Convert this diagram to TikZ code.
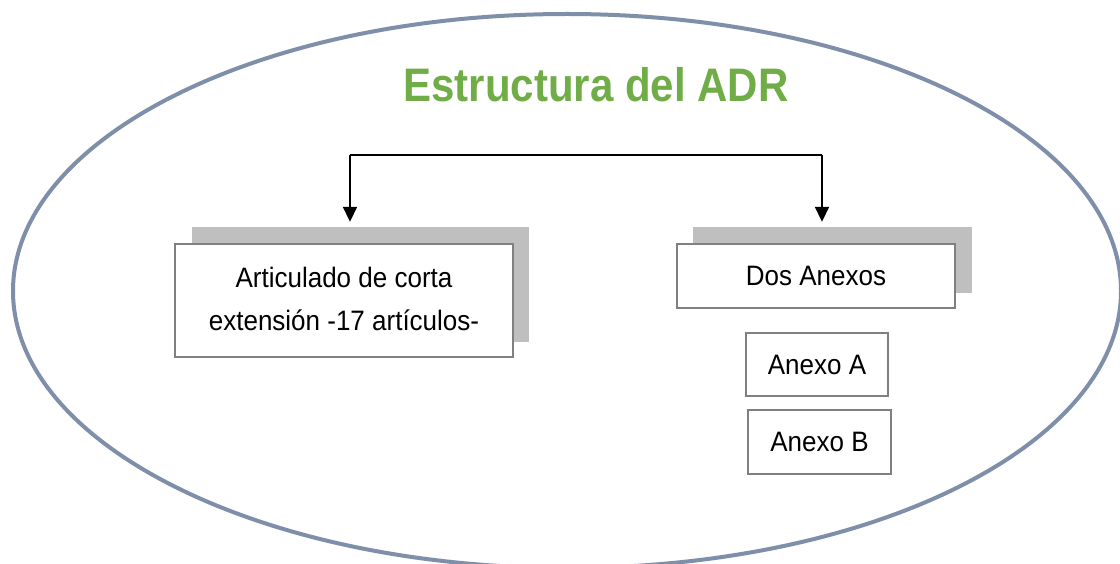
\documentclass[tikz,border=0pt]{standalone}
\usepackage{fontspec}
\setmainfont{Liberation Sans}
\usetikzlibrary{arrows.meta}
\definecolor{ringblue}{RGB}{127,143,169}
\definecolor{titlegreen}{RGB}{112,173,71}
\definecolor{shadowgray}{RGB}{191,191,191}
\definecolor{boxgray}{RGB}{128,128,128}
\newcommand{\vstretch}[1]{\scalebox{1}[1.08]{#1}}
\begin{document}
\begin{tikzpicture}[x=1pt,y=-1pt,
  shadowbox/.style={fill=shadowgray, draw=none, inner sep=0pt},
  mainbox/.style={fill=white, draw=boxgray, line width=1.8pt, inner sep=0pt,
                  font=\fontsize{26}{40}\selectfont},
  link/.style={line width=1.8pt, -{Triangle[length=15pt,width=14pt]}, shorten >=5pt},
  bar/.style={line width=1.8pt}]
\useasboundingbox (0,0) rectangle (1120,564);
\fill[white] (0,0) rectangle (1120,564);
\draw[ringblue, line width=4pt] (567,291) ellipse [x radius=554, y radius=277];

\node[font=\fontsize{42}{50}\selectfont\bfseries, text=titlegreen] (title) at (596,85)
  {\scalebox{1}[1.12]{Estructura del ADR}};

% shadows
\node[shadowbox, minimum width=337pt, minimum height=115pt] (artshadow) at (360.5,284.5) {};
\node[shadowbox, minimum width=279pt, minimum height=66pt] (dosshadow) at (832.5,260) {};

% main boxes
\node[mainbox, minimum width=338pt, minimum height=113pt] (art) at (344,300.5)
  {\raisebox{2pt}{\vstretch{\begin{tabular}{@{}c@{}}Articulado de corta\\ extensión -17 artículos-\end{tabular}}}};
\node[mainbox, minimum width=278pt, minimum height=64pt] (dos) at (816,276)
  {\vstretch{Dos Anexos}};
\node[mainbox, minimum width=142pt, minimum height=63pt] (anexoa) at (817,364.5)
  {\vstretch{Anexo A}};
\node[mainbox, minimum width=143pt, minimum height=64pt] (anexob) at (819.5,442)
  {\vstretch{Anexo B}};

% connectors
\coordinate (lstart) at (350,155);
\coordinate (rjoin) at (822,155);
\draw[bar] (lstart) -- (rjoin);
\draw[link] (lstart) -- (lstart |- artshadow.north);
\draw[link] (rjoin) -- (rjoin |- dosshadow.north);
\end{tikzpicture}
\end{document}
